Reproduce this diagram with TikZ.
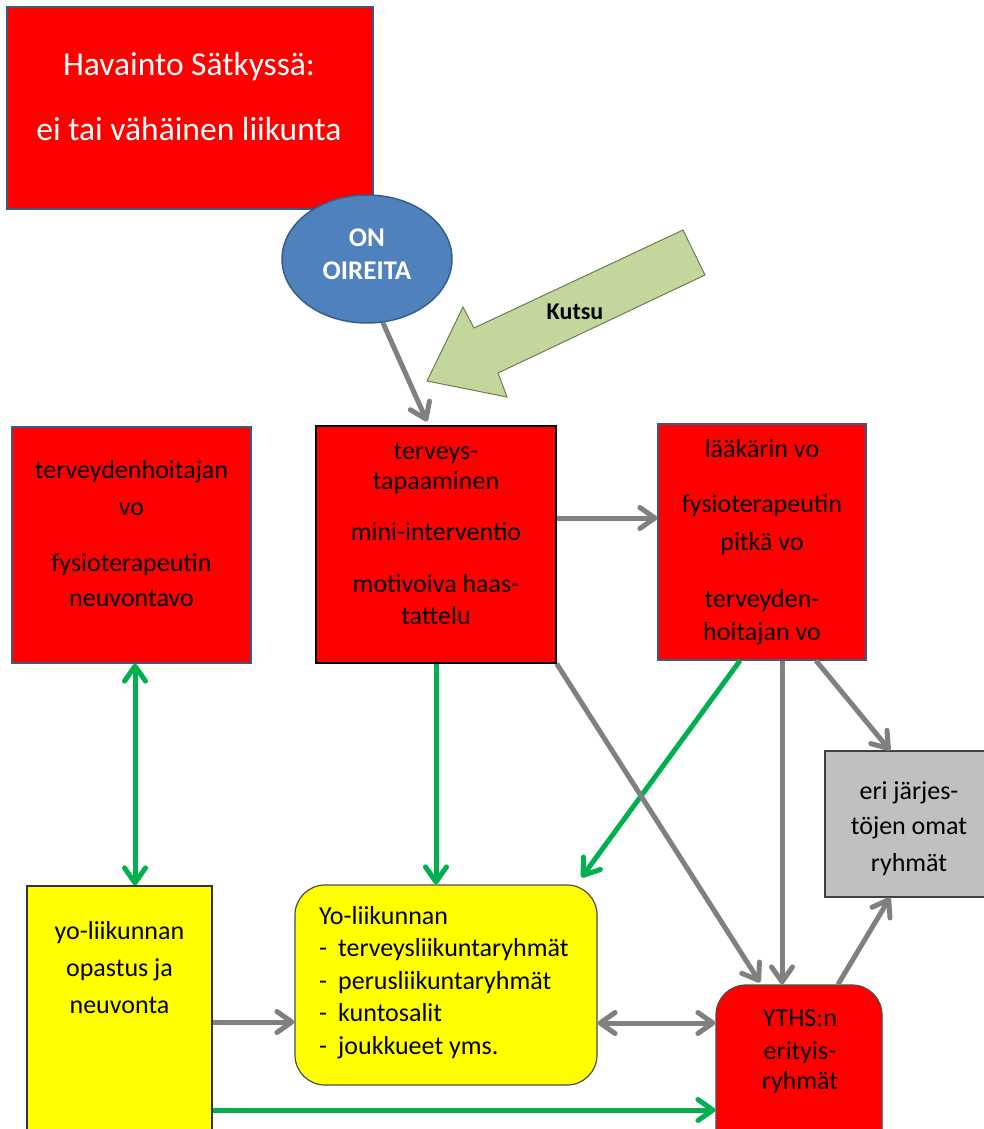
\documentclass[tikz,border=0pt]{standalone}
\usepackage{fontspec}
\setmainfont{Carlito}
\usetikzlibrary{arrows.meta,shapes.geometric}
\definecolor{bred}{HTML}{FF0000}
\definecolor{bord}{HTML}{3B5A82}
\definecolor{oblue}{HTML}{4F81BD}
\definecolor{oblued}{HTML}{385D8A}
\definecolor{kgreen}{HTML}{C3D69B}
\definecolor{kgreend}{HTML}{6F7D55}
\definecolor{agray}{HTML}{808080}
\definecolor{agreen}{HTML}{00B050}
\definecolor{lgray}{HTML}{C0C0C0}
\definecolor{pyellow}{HTML}{FFFF00}
\begin{document}
\begin{tikzpicture}[x=1pt,y=-1pt,
  redbox/.style={rectangle, draw=bord, line width=1.2pt, fill=bred, inner sep=0pt},
  ybox/.style={rectangle, draw=black!80, line width=1.2pt, fill=pyellow, inner sep=0pt},
  txt/.style={font=\fontsize{26}{31}\selectfont, align=center, anchor=north, inner sep=0pt},
  garrow/.style={draw=agray, line width=5pt, -{Straight Barb[length=15pt,width=21pt,round]}},
  grarrow/.style={draw=agreen, line width=5pt, -{Straight Barb[length=15pt,width=21pt,round]}},
  dblgray/.style={draw=agray, line width=5pt, {Straight Barb[length=15pt,width=21pt,round]}-{Straight Barb[length=15pt,width=21pt,round]}},
  dblgreen/.style={draw=agreen, line width=5pt, {Straight Barb[length=15pt,width=21pt,round]}-{Straight Barb[length=15pt,width=21pt,round]}}
]
\useasboundingbox (0,0) rectangle (984,1129);
\fill[white] (0,0) rectangle (984,1129);

% helper coordinates
\coordinate (c518) at (0,518);
\coordinate (c1022) at (0,1022);
\coordinate (c1023) at (0,1023);
\coordinate (c1110) at (0,1110);
\coordinate (c135) at (135,0);
\coordinate (c782) at (782,0);
\coordinate (c816) at (816,0);
\coordinate (c838) at (838,0);
\coordinate (c890) at (890,0);

% title
\node[redbox, minimum width=366pt, minimum height=202pt] (title) at (190,108) {};
\node[font=\fontsize{33.5}{65}\selectfont, text=white, align=center, anchor=north, inner sep=0pt] (titletxt) at (189,29.5) {\strut Havainto Sätkyssä:\\ei tai vähäinen liikunta};

% ellipse
\node[ellipse, draw=oblued, line width=1.5pt, fill=oblue, minimum width=170pt, minimum height=128pt, inner sep=0pt] (on) at (367,259) {};
\node[text=white, font=\bfseries\fontsize{27}{33}\selectfont, align=center, anchor=north, inner sep=0pt] (ontxt) at (367,223.6) {\strut ON\\OIREITA};

% Kutsu block arrow
\draw[fill=kgreen, draw=kgreend, line width=1pt] (683,230) -- (705,275) -- (498,373) -- (507,397) -- (427,381) -- (463,307) -- (474,328) -- cycle;
\node[font=\bfseries\fontsize{24}{28}\selectfont, anchor=base, inner sep=0pt] (kutsu) at (575,319) {Kutsu};

% middle row
\node[redbox, minimum width=239pt, minimum height=236pt] (lbox) at (131.5,545) {};
\node[txt] (ltxt) at (131.5,456.3) {\strut terveydenhoitajan\\[6pt]vo\\[25pt]fysioterapeutin\\[4pt]neuvontavo};

\node[redbox, draw=black, minimum width=240pt, minimum height=237pt] (mbox) at (436,544.5) {};
\node[txt] (mtxt) at (436,437.3) {\strut terveys-\\[-1pt]tapaaminen\\[20pt]mini-interventio\\[21pt]motivoiva haas-\\[1pt]tattelu};

\node[redbox, minimum width=208pt, minimum height=236pt] (rbox) at (762,542) {};
\node[txt] (rtxt) at (762,435.3) {\strut lääkärin vo\\[24pt]fysioterapeutin\\[7pt]pitkä vo\\[26pt]terveyden-\\[2pt]hoitajan vo};

% gray box
\node[rectangle, draw=black!75, line width=1.2pt, fill=lgray, minimum width=160pt, minimum height=146pt, inner sep=0pt] (gbox) at (905,824) {};
\node[txt] (gtxt) at (909,777.3) {\strut eri järjes-\\[4pt]töjen omat\\[6pt]ryhmät};

% bottom row
\node[ybox, minimum width=185pt, minimum height=264pt] (yo) at (119.5,1018) {};
\node[txt] (yotxt) at (119.5,917.3) {\strut yo-liikunnan\\[6pt]opastus ja\\[6pt]neuvonta};

\node[ybox, draw=black!70, rounded corners=30pt, minimum width=302pt, minimum height=200pt] (yel) at (446,985) {};
\node[font=\fontsize{26}{32.5}\selectfont, align=left, anchor=north west, inner sep=0pt] (yeltxt) at (319,901.25) {\strut Yo-liikunnan\\\makebox[19pt][l]{-}terveysliikuntaryhmät\\\makebox[19pt][l]{-}perusliikuntaryhmät\\\makebox[19pt][l]{-}kuntosalit\\\makebox[19pt][l]{-}joukkueet yms.};

\node[redbox, draw=black!70, rounded corners=30pt, minimum width=166pt, minimum height=180pt] (yths) at (799,1075) {};
\node[txt] (ythstxt) at (800,1004.3) {\strut YTHS:n\\[2pt]erityis-\\[-1pt]ryhmät};

% connectors
\draw[garrow] (on.-76) -- ([xshift=-9pt,yshift=4pt]mbox.north);
\draw[garrow] (mbox.east |- c518) -- (rbox.west |- c518);
\draw[dblgreen] (lbox.south -| c135) -- (yo.north -| c135);
\draw[grarrow] (mbox.south) -- (mbox.south |- yel.north);
\draw[grarrow] ([xshift=-22pt]rbox.south) -- ([xshift=-16pt,yshift=7pt]yel.north east);
\draw[garrow] (mbox.south east) -- ([xshift=-39pt,yshift=2pt]yths.north);
\draw[garrow] (rbox.south -| c782) -- (yths.north -| c782);
\draw[garrow] (rbox.south -| c816) -- (gbox.north -| c890);
\draw[garrow] (yths.north -| c838) -- (gbox.south -| c890);
\draw[dblgray] (yel.east |- c1023) -- (yths.west |- c1023);
\draw[garrow] (yo.east |- c1022) -- (yel.west |- c1022);
\draw[grarrow] (yo.east |- c1110) -- (yths.west |- c1110);
\end{tikzpicture}
\end{document}
